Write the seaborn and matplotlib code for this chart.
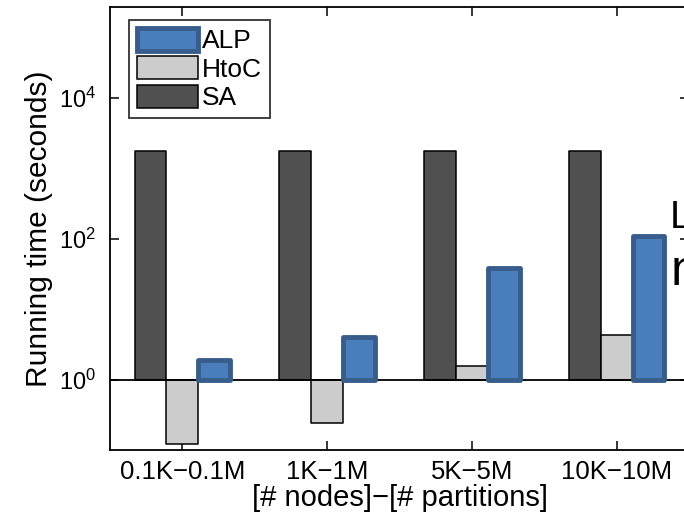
import matplotlib
matplotlib.use("Agg")
import matplotlib.pyplot as plt
import seaborn as sns
import pandas as pd
from matplotlib.patches import Patch

categories = ["0.1K\u22120.1M", "1K\u22121M", "5K\u22125M", "10K\u221210M"]
methods = ["SA", "HtoC", "ALP"]
sa_vals = [1750, 1750, 1750, 1750]
htoc_vals = [0.12, 0.24, 1.55, 4.25]
alp_vals = [1.9, 4.0, 38, 108]

sns.set_theme(style="white")
plt.rcParams['font.family'] = ['Liberation Sans', 'DejaVu Sans']
plt.rcParams['mathtext.default'] = 'regular'
for k in ['text.color', 'axes.labelcolor', 'xtick.color', 'ytick.color']:
    plt.rcParams[k] = 'black'

rows = []
for m, vals in zip(methods, [sa_vals, htoc_vals, alp_vals]):
    for c, v in zip(categories, vals):
        rows.append({"cat": c, "method": m, "value": v})
df = pd.DataFrame(rows)

fig = plt.figure(figsize=(6.84, 5.2), dpi=100)
ax = fig.add_axes([110/684, 70/520, 579/684, 443/520])

face = {"SA": "#505050", "HtoC": "#cccccc", "ALP": "#4a7dbb"}
edge = {"SA": "black", "HtoC": "black", "ALP": "#385d8a"}
lw = {"SA": 1.1, "HtoC": 1.1, "ALP": 3.5}

sns.barplot(data=df, x="cat", y="value", hue="method", hue_order=methods,
            order=categories, palette=face, width=0.66, ax=ax, legend=False,
            errorbar=None, saturation=1)
ax.set_yscale("log")

# re-anchor bars at 10^0 (MATLAB-style log bar baseline)
n = len(categories)
for i, p in enumerate(ax.patches[: n * len(methods)]):
    m = methods[i // n]
    h = p.get_height()
    p.set_y(1)
    p.set_height(h - 1)
    p.set_edgecolor(edge[m])
    p.set_linewidth(lw[m])
    p.set_joinstyle("round")
    if m == "ALP":
        p.set_zorder(4)

ax.axhline(1, color="black", lw=1.3, zorder=3)

ax.set_ylim(0.1, 10**5.29)
ax.set_xlim(-0.5, 3.5)
ax.set_yticks([1, 1e2, 1e4])
ax.yaxis.set_minor_locator(matplotlib.ticker.NullLocator())

for s in ax.spines.values():
    s.set_color("black")
    s.set_linewidth(1.3)

ax.tick_params(axis="both", direction="in", length=6.5, width=1.1, color="black",
               labelcolor="black", top=True, right=True, bottom=True, left=True)
ax.tick_params(axis="x", labelsize=18.5, pad=7)
ax.tick_params(axis="y", labelsize=17, pad=10)

ax.set_xlabel("[# nodes]\u2212[# partitions]", fontsize=21, labelpad=0, color="black")
ax.set_ylabel("Running time (seconds)", fontsize=21.5, labelpad=4, color="black")

handles = [Patch(facecolor=face[m], edgecolor=edge[m], linewidth=lw[m], joinstyle="round")
           for m in ["ALP", "HtoC", "SA"]]
leg = ax.legend(handles, ["ALP", "HtoC", "SA"], loc="upper left",
                bbox_to_anchor=(0.033, 0.971), borderaxespad=0, fontsize=19,
                frameon=True, fancybox=False, edgecolor="black",
                handlelength=2.3, handleheight=0.95, handletextpad=0.15,
                labelspacing=0.12, borderpad=0.3)
leg.get_frame().set_linewidth(1.3)
for t in leg.get_texts():
    t.set_color("black")

fig.text(670/684, 1 - 228/520, "L", fontsize=28, va="baseline", ha="left", color="black")
fig.text(671/684, 1 - 285/520, "n", fontsize=36, va="baseline", ha="left", color="black")

fig.savefig("out.png", dpi=100)
